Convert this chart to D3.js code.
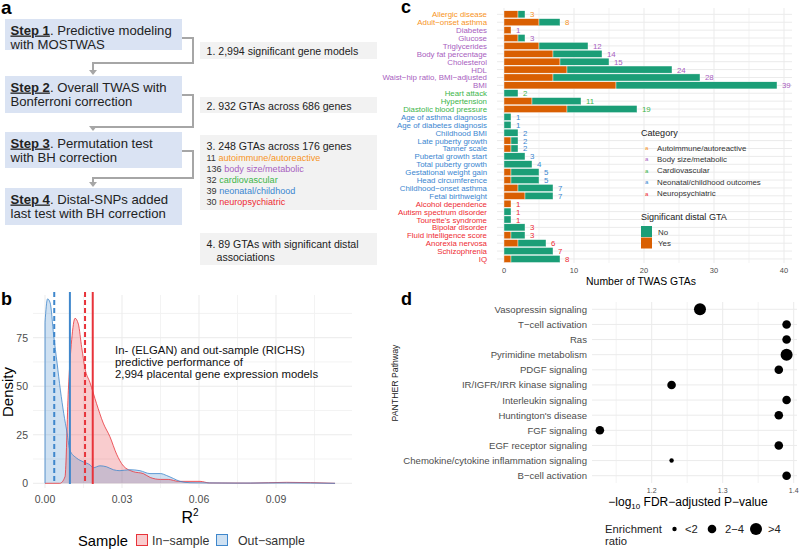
<!DOCTYPE html>
<html><head><meta charset="utf-8">
<script src="https://cdn.jsdelivr.net/npm/d3@7"></script>
<style>body{margin:0;background:#fff}svg{font-family:"Liberation Sans",Arial,sans-serif}</style>
</head><body><svg id="chart" width="800" height="551"></svg>
<script>
// ---------- DATA ----------
// Panel a
const stepTitles = ["Step 1", "Step 2", "Step 3", "Step 4"];
const stepLine1 = [". Predictive modeling", ". Overall TWAS with", ". Permutation test", ". Distal-SNPs added"];
const stepLine2 = ["with MOSTWAS", "Bonferroni correction", "with BH correction", "last test with BH correction"];
const resultLines = ["1. 2,994 significant gene models", "2. 932 GTAs across 686 genes", "3. 248 GTAs across 176 genes"];
const catCounts = [11, 136, 32, 39, 30];
const catShort = ["autoimmune/autoreactive", "body size/metabolic", "cardiovascular", "neonatal/childhood", "neuropsychiatric"];
const catNames = ["Autoimmune/autoreactive", "Body size/metabolic", "Cardiovascular", "Neonatal/childhood outcomes", "Neuropsychiatric"];
const catColors = ["#F7941D", "#A860C0", "#3DB54A", "#3B86D0", "#EE2B33"];
// Panel b
const densX = [0, 0.001, 0.002, 0.0034, 0.0047, 0.006, 0.0073, 0.0086, 0.0097, 0.0123, 0.015, 0.0175, 0.0188, 0.0214, 0.024, 0.0266, 0.0292, 0.033, 0.037, 0.0409, 0.045, 0.0474, 0.05, 0.0526, 0.0565, 0.063, 0.075, 0.094, 0.113];
const outSample = [83, 95, 93, 76, 62, 48, 36, 26, 17, 13, 11, 9.5, 8, 9, 8.5, 7, 6.5, 7, 6.5, 5, 5, 4, 2.5, 1, 0.3, 0.2, 0.1, 0.2, 0];
const inX = [0, 0.0058, 0.0078, 0.0091, 0.0104, 0.0117, 0.013, 0.0143, 0.0156, 0.0175, 0.0201, 0.0227, 0.0253, 0.0279, 0.0305, 0.0344, 0.0383, 0.041, 0.045, 0.048, 0.052, 0.0604, 0.064, 0.08, 0.094, 0.113];
const inSample = [0, 0, 3.4, 48, 74, 85, 82, 70, 59, 52, 41, 31, 24, 15, 9, 6, 5, 3, 2, 2, 1, 1, 0.2, 0.1, 0.5, 0];
const vlines = [{v: 0.0036, s: "out", dash: true}, {v: 0.0097, s: "out", dash: false}, {v: 0.0156, s: "in", dash: true}, {v: 0.0186, s: "in", dash: false}];
const bXTicks = [0, 0.03, 0.06, 0.09];
const bYTicks = [0, 25, 50, 75];
// Panel c
const traits = ["Allergic disease", "Adult\u2212onset asthma", "Diabetes", "Glucose", "Triglycerides", "Body fat percentage", "Cholesterol", "HDL", "Waist\u2212hip ratio, BMI\u2212adjusted", "BMI", "Heart attack", "Hypertension", "Diastolic blood pressure", "Age of asthma diagnosis", "Age of diabetes diagnosis", "Childhood BMI", "Late puberty growth", "Tanner scale", "Pubertal growth start", "Total puberty growth", "Gestational weight gain", "Head circumference", "Childhood\u2212onset asthma", "Fetal birthweight", "Alcohol dependence", "Autism spectrum disorder", "Tourette's syndrome", "Bipolar disorder", "Fluid intelligence score", "Anorexia nervosa", "Schizophrenia", "IQ"];
const traitCat = [0, 0, 1, 1, 1, 1, 1, 1, 1, 1, 2, 2, 2, 3, 3, 3, 3, 3, 3, 3, 3, 3, 3, 3, 4, 4, 4, 4, 4, 4, 4, 4];
const gtaYes = [2, 5, 1, 2, 5, 7, 8, 9, 7, 16, 0, 4, 9, 0, 0, 0, 1, 1, 0, 0, 1, 1, 2, 3, 1, 0, 0, 0, 1, 2, 0, 1];
const gtaNo = [1, 3, 0, 1, 7, 7, 7, 15, 21, 23, 2, 7, 10, 1, 1, 2, 1, 1, 3, 4, 4, 4, 5, 4, 0, 1, 1, 3, 2, 4, 7, 7];
const cTicks = [0, 10, 20, 30, 40];
const yesColor = "#D95F02", noColor = "#1B9E77";
// Panel d
const pathways = ["Vasopressin signaling", "T\u2212cell activation", "Ras", "Pyrimidine metabolism", "PDGF signaling", "IR/IGFR/IRR kinase signaling", "Interleukin signaling", "Huntington's disease", "FGF signaling", "EGF receptor signaling", "Chemokine/cytokine inflammation signaling", "B\u2212cell activation"];
const logFDR = [1.268, 1.390, 1.390, 1.390, 1.379, 1.228, 1.390, 1.379, 1.127, 1.379, 1.228, 1.390];
const enrichClass = [">4", "2\u22124", "2\u22124", ">4", "2\u22124", "2\u22124", "2\u22124", "2\u22124", "2\u22124", "2\u22124", "<2", "2\u22124"];
const enrichLevels = ["<2", "2\u22124", ">4"];
const dTicks = [1.2, 1.3, 1.4];

// ---------- DRAW ----------
const svg = d3.select("#chart");
const gray = "#4D4D4D", grid = "#EBEBEB";

// font size that makes a sample string span a target width
function fitSize(str, target, weight) {
  const t = svg.append("text").attr("font-size", 10).attr("font-weight", weight || "normal").text(str);
  const w = t.node().getComputedTextLength();
  t.remove();
  return 10 * target / w;
}
function panelLabel(t, x, y, fs) {
  svg.append("text").attr("x", x).attr("y", y).attr("font-size", fs).attr("font-weight", "bold").text(t);
}

// ===== Panel a =====
panelLabel("a", 1, 13.5, 19);
const fsStep = fitSize("Step 1. Predictive modeling", 160);
const fsRes = fitSize(resultLines[0], 152);
const fsCat = fitSize("11 autoimmune/autoreactive", 114);
const boxY = [19, 76, 132, 188], boxH = [31, 37, 36, 37];
stepTitles.forEach((s, i) => {
  svg.append("rect").attr("x", 5).attr("y", boxY[i]).attr("width", 177).attr("height", boxH[i]).attr("fill", "#DAE3F3");
  const t = svg.append("text").attr("x", 10.5).attr("y", boxY[i] + 15.5).attr("font-size", fsStep).attr("fill", "#222");
  t.append("tspan").attr("font-weight", "bold").attr("text-decoration", "underline").text(s);
  t.append("tspan").text(stepLine1[i]);
  svg.append("text").attr("x", 10.5).attr("y", boxY[i] + 30).attr("font-size", fsStep).attr("fill", "#222").text(stepLine2[i]);
});
const conn = [[38, 63, 76], [95, 127, 132], [151, 178, 188]];
conn.forEach(c => {
  svg.append("path").attr("d", `M182,${c[0]}H193V${c[1]}H93V${c[2] - 5}`).attr("fill", "none").attr("stroke", "#A6A6A6").attr("stroke-width", 2);
  svg.append("path").attr("d", `M89,${c[2] - 6}L97,${c[2] - 6}L93,${c[2] - 1}Z`).attr("fill", "#A6A6A6");
});
const rb = [[42, 17], [97, 16], [135, 75], [233, 32]];
rb.forEach(r => svg.append("rect").attr("x", 200).attr("y", r[0]).attr("width", 177).attr("height", r[1]).attr("fill", "#F2F2F2"));
svg.append("text").attr("x", 206.5).attr("y", 54.5).attr("font-size", fsRes).attr("fill", "#222").text(resultLines[0]);
svg.append("text").attr("x", 206.5).attr("y", 110).attr("font-size", fsRes).attr("fill", "#222").text(resultLines[1]);
svg.append("text").attr("x", 206.5).attr("y", 150).attr("font-size", fsRes).attr("fill", "#222").text(resultLines[2]);
catCounts.forEach((n, i) => {
  const t = svg.append("text").attr("x", 206.5).attr("y", 160.8 + i * 11.1).attr("font-size", fsCat);
  t.append("tspan").attr("fill", "#333").text(n + " ");
  t.append("tspan").attr("fill", catColors[i]).text(catShort[i]);
});
svg.append("text").attr("x", 206.5).attr("y", 247.5).attr("font-size", fsRes).attr("fill", "#222").text("4. 89 GTAs with significant distal");
svg.append("text").attr("x", 216.5).attr("y", 260.5).attr("font-size", fsRes).attr("fill", "#222").text("associations");

// ===== Panel b =====
panelLabel("b", 1, 305, 18);
const bx = d3.scaleLinear().domain([0, 0.03]).range([45, 122]);
const by = d3.scaleLinear().domain([0, 75]).range([483.3, 337.7]);
const bL = 33, bR = 352, bT = 295, bB = 488;
const bg = svg.append("g");
d3.range(0.015, 0.12, 0.03).forEach(v => bg.append("line").attr("x1", bx(v)).attr("x2", bx(v)).attr("y1", bT).attr("y2", bB).attr("stroke", "#F3F3F3"));
[12.5, 37.5, 62.5, 87.5].forEach(v => bg.append("line").attr("x1", bL).attr("x2", bR).attr("y1", by(v)).attr("y2", by(v)).attr("stroke", "#F3F3F3"));
bXTicks.forEach(v => bg.append("line").attr("x1", bx(v)).attr("x2", bx(v)).attr("y1", bT).attr("y2", bB).attr("stroke", grid));
bYTicks.forEach(v => bg.append("line").attr("x1", bL).attr("x2", bR).attr("y1", by(v)).attr("y2", by(v)).attr("stroke", grid));
const outPts = densX.map((x, i) => [x, outSample[i]]);
const inPts = inX.map((x, i) => [x, inSample[i]]);
const area = d3.area().x(d => bx(d[0])).y0(by(0)).y1(d => by(d[1])).curve(d3.curveMonotoneX);
const line = d3.line().x(d => bx(d[0])).y(d => by(d[1])).curve(d3.curveMonotoneX);
const redC = "#E8333A", blueC = "#3F87CC";
bg.append("path").attr("d", area(inPts)).attr("fill", redC).attr("fill-opacity", 0.25);
bg.append("path").attr("d", area(outPts)).attr("fill", blueC).attr("fill-opacity", 0.25);
bg.append("path").attr("d", line(inPts)).attr("fill", "none").attr("stroke", redC).attr("stroke-width", 0.8);
bg.append("path").attr("d", line(outPts)).attr("fill", "none").attr("stroke", blueC).attr("stroke-width", 0.8);
bg.append("line").attr("x1", bx(0)).attr("x2", bx(0)).attr("y1", by(0)).attr("y2", by(outSample[0])).attr("stroke", blueC).attr("stroke-width", 0.8);
vlines.forEach(l => bg.append("line").attr("x1", bx(l.v)).attr("x2", bx(l.v)).attr("y1", bT - 3).attr("y2", bB - 4)
  .attr("stroke", l.s === "in" ? redC : blueC).attr("stroke-width", 2).attr("stroke-dasharray", l.dash ? "5,3" : null));
bXTicks.forEach(v => bg.append("text").attr("x", bx(v)).attr("y", 503).attr("text-anchor", "middle").attr("font-size", 10.5).attr("fill", gray).text(v.toFixed(2)));
bYTicks.forEach(v => bg.append("text").attr("x", 28).attr("y", by(v) + 4).attr("text-anchor", "end").attr("font-size", 10.5).attr("fill", gray).text(v));
bg.append("text").attr("transform", "translate(13,392) rotate(-90)").attr("text-anchor", "middle").attr("font-size", fitSize("Density", 50)).text("Density");
const r2 = bg.append("text").attr("x", 190).attr("y", 523).attr("text-anchor", "middle").attr("font-size", 16);
r2.append("tspan").text("R");
r2.append("tspan").attr("font-size", 10).attr("dy", -7).text("2");
const annot = ["In- (ELGAN) and out-sample (RICHS)", "predictive performance of", "2,994 placental gene expression models"];
const fsAnn = fitSize(annot[0], 190);
annot.forEach((s, i) => bg.append("text").attr("x", 115).attr("y", 353.5 + i * 12.1).attr("font-size", fsAnn).attr("fill", "#111").text(s));
bg.append("text").attr("x", 78).attr("y", 546).attr("font-size", fitSize("Sample", 50)).text("Sample");
const fsLegB = fitSize("Out\u2212sample", 67);
bg.append("rect").attr("x", 136.5).attr("y", 534.5).attr("width", 11).attr("height", 11).attr("fill", redC).attr("fill-opacity", 0.25).attr("stroke", redC);
bg.append("text").attr("x", 152).attr("y", 545).attr("font-size", fsLegB).attr("fill", "#333").text("In\u2212sample");
bg.append("rect").attr("x", 216.5).attr("y", 534.5).attr("width", 11).attr("height", 11).attr("fill", blueC).attr("fill-opacity", 0.25).attr("stroke", blueC);
bg.append("text").attr("x", 238).attr("y", 545).attr("font-size", fsLegB).attr("fill", "#333").text("Out\u2212sample");

// ===== Panel c =====
panelLabel("c", 401, 12.5, 18);
const cx = d3.scaleLinear().domain([0, 10]).range([504, 574]);
const cy = d3.scaleBand().domain(traits).range([10.4, 262.9]).paddingInner(0.1).paddingOuter(0.05);
const cT = 8, cB = 263, cL = 497, cR = 792;
const fsTrait = fitSize("Diastolic blood pressure", 84);
const cg = svg.append("g");
[5, 15, 25, 35].forEach(v => cg.append("line").attr("x1", cx(v)).attr("x2", cx(v)).attr("y1", cT).attr("y2", cB).attr("stroke", "#F3F3F3"));
cTicks.forEach(v => cg.append("line").attr("x1", cx(v)).attr("x2", cx(v)).attr("y1", cT).attr("y2", cB).attr("stroke", grid));
traits.forEach(t => cg.append("line").attr("x1", cL).attr("x2", cR).attr("y1", cy(t) + cy.bandwidth() / 2).attr("y2", cy(t) + cy.bandwidth() / 2).attr("stroke", grid));
traits.forEach((t, i) => {
  const y = cy(t), h = cy.bandwidth();
  if (gtaYes[i] > 0) cg.append("rect").attr("x", cx(0)).attr("y", y).attr("width", cx(gtaYes[i]) - cx(0)).attr("height", h).attr("fill", yesColor).attr("stroke", "#fff").attr("stroke-width", 0.4);
  if (gtaNo[i] > 0) cg.append("rect").attr("x", cx(gtaYes[i])).attr("y", y).attr("width", cx(gtaNo[i]) - cx(0)).attr("height", h).attr("fill", noColor).attr("stroke", "#fff").attr("stroke-width", 0.4);
  const tot = gtaYes[i] + gtaNo[i];
  cg.append("text").attr("x", cx(tot) + 5).attr("y", y + h / 2 + 3).attr("font-size", fsTrait).attr("fill", catColors[traitCat[i]]).text(tot);
  cg.append("text").attr("x", 487).attr("y", y + h / 2 + 3).attr("text-anchor", "end").attr("font-size", fsTrait).attr("fill", catColors[traitCat[i]]).text(t);
});
cTicks.forEach(v => cg.append("text").attr("x", cx(v)).attr("y", 273).attr("text-anchor", "middle").attr("font-size", 7.5).attr("fill", gray).text(v));
cg.append("text").attr("x", 641).attr("y", 285).attr("text-anchor", "middle").attr("font-size", fitSize("Number of TWAS GTAs", 110)).text("Number of TWAS GTAs");
const fsCTitle = fitSize("Significant distal GTA", 86);
const fsCItem = fitSize("Neonatal/childhood outcomes", 104);
cg.append("text").attr("x", 641).attr("y", 136).attr("font-size", fsCTitle).attr("fill", "#222").text("Category");
catNames.forEach((n, i) => {
  cg.append("text").attr("x", 645).attr("y", 150 + i * 11.4).attr("font-size", 6).attr("fill", catColors[i]).text("a");
  cg.append("text").attr("x", 657).attr("y", 150.5 + i * 11.4).attr("font-size", fsCItem).attr("fill", "#333").text(n);
});
cg.append("text").attr("x", 641).attr("y", 220).attr("font-size", fsCTitle).attr("fill", "#222").text("Significant distal GTA");
[["No", noColor], ["Yes", yesColor]].forEach((k, i) => {
  cg.append("rect").attr("x", 641).attr("y", 226 + i * 11.5).attr("width", 11).attr("height", 11).attr("fill", k[1]);
  cg.append("text").attr("x", 658).attr("y", 234.5 + i * 11.5).attr("font-size", fsCItem).attr("fill", "#333").text(k[0]);
});

// ===== Panel d =====
panelLabel("d", 401, 305, 18);
const dx = d3.scaleLinear().domain([1.2, 1.3]).range([651.7, 722.7]);
const dy = d3.scalePoint().domain(pathways).range([309.3, 475.7]);
const dr = d3.scaleOrdinal().domain(enrichLevels).range([2.2, 4.3, 6]);
const dg = svg.append("g");
const dL = 592, dR = 797, dT = 302, dB = 483;
const fsPath = fitSize(pathways[10], 184);
[1.15, 1.25, 1.35].forEach(v => dg.append("line").attr("x1", dx(v)).attr("x2", dx(v)).attr("y1", dT).attr("y2", dB).attr("stroke", "#F3F3F3"));
dTicks.forEach(v => dg.append("line").attr("x1", dx(v)).attr("x2", dx(v)).attr("y1", dT).attr("y2", dB).attr("stroke", grid));
pathways.forEach(p => dg.append("line").attr("x1", dL).attr("x2", dR).attr("y1", dy(p)).attr("y2", dy(p)).attr("stroke", grid));
pathways.forEach((p, i) => {
  dg.append("circle").attr("cx", dx(logFDR[i])).attr("cy", dy(p)).attr("r", dr(enrichClass[i])).attr("fill", "#000");
  dg.append("text").attr("x", 587).attr("y", dy(p) + 3.5).attr("text-anchor", "end").attr("font-size", fsPath).attr("fill", gray).text(p);
});
dTicks.forEach(v => dg.append("text").attr("x", dx(v)).attr("y", 493).attr("text-anchor", "middle").attr("font-size", 7).attr("fill", gray).text(v.toFixed(1)));
const xt = dg.append("text").attr("x", 688).attr("y", 506).attr("text-anchor", "middle").attr("font-size", 12);
xt.append("tspan").text("\u2212log");
xt.append("tspan").attr("font-size", 8).attr("dy", 3).text("10");
xt.append("tspan").attr("dy", -3).text(" FDR\u2212adjusted P\u2212value");
dg.append("text").attr("transform", "translate(398,383) rotate(-90)").attr("text-anchor", "middle").attr("font-size", fitSize("PANTHER Pathway", 77)).attr("fill", "#222").text("PANTHER Pathway");
const fsEn = fitSize("Enrichment", 57);
dg.append("text").attr("x", 605).attr("y", 532.5).attr("font-size", fsEn).attr("fill", "#222").text("Enrichment");
dg.append("text").attr("x", 605).attr("y", 545).attr("font-size", fsEn).attr("fill", "#222").text("ratio");
const legX = [674.5, 712, 756], legTX = [685, 725, 768];
enrichLevels.forEach((l, i) => {
  dg.append("circle").attr("cx", legX[i]).attr("cy", 529).attr("r", dr(l)).attr("fill", "#000");
  dg.append("text").attr("x", legTX[i]).attr("y", 533).attr("font-size", fsEn).attr("fill", "#222").text(l);
});
</script></body></html>
